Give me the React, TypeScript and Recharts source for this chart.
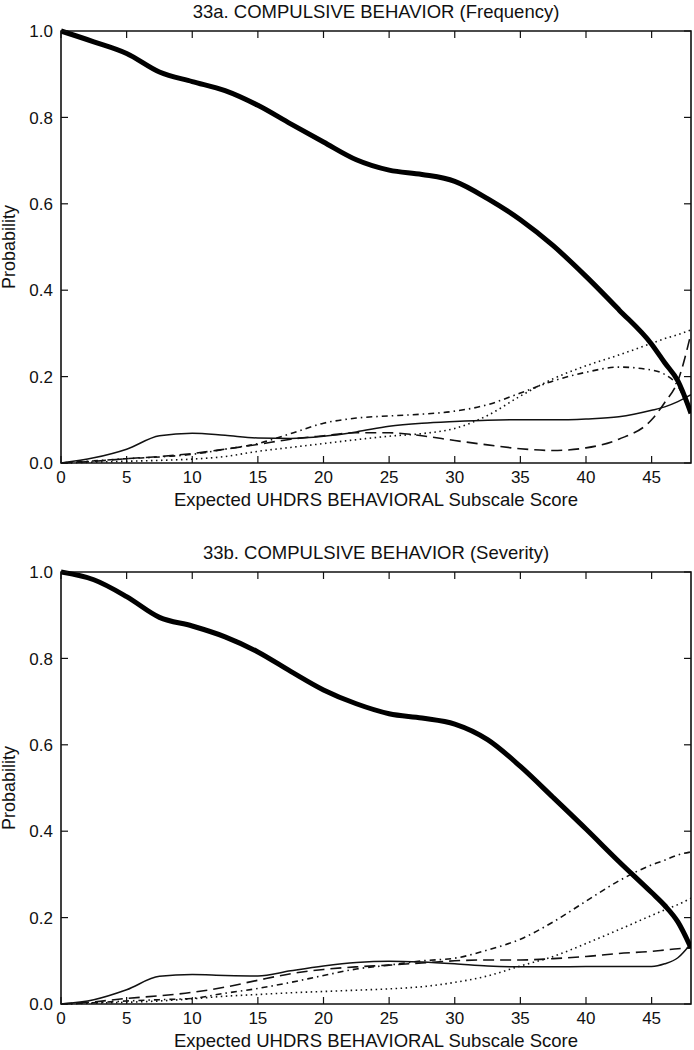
import React from 'react';
import { LineChart, Line, XAxis, YAxis, ReferenceArea, Label } from 'recharts';

// ---------- data ----------
const X_VALUES = [0, 2.5, 5, 7.5, 10, 12.5, 15, 17.5, 20, 22.5, 25, 27.5, 30, 32.5, 35, 37.5, 40, 42.5, 45, 46, 47, 48];
const X_TICKS = [0, 5, 10, 15, 20, 25, 30, 35, 40, 45];
const Y_TICKS = [0, 0.2, 0.4, 0.6, 0.8, 1.0];

const TITLE_A = '33a. COMPULSIVE BEHAVIOR (Frequency)';
const TITLE_B = '33b. COMPULSIVE BEHAVIOR (Severity)';
const X_LABEL = 'Expected UHDRS BEHAVIORAL Subscale Score';
const Y_LABEL = 'Probability';

// 33a Frequency
const FREQ_THICK = [1.0, 0.975, 0.948, 0.905, 0.883, 0.862, 0.828, 0.785, 0.743, 0.702, 0.678, 0.668, 0.652, 0.612, 0.563, 0.503, 0.432, 0.355, 0.275, 0.232, 0.19, 0.115];
const FREQ_SOLID = [0, 0.012, 0.032, 0.063, 0.069, 0.064, 0.058, 0.057, 0.062, 0.072, 0.085, 0.092, 0.096, 0.099, 0.1, 0.1, 0.102, 0.107, 0.122, 0.13, 0.142, 0.158];
const FREQ_DASHED = [0, 0.004, 0.01, 0.015, 0.022, 0.032, 0.043, 0.055, 0.063, 0.07, 0.07, 0.063, 0.052, 0.042, 0.033, 0.029, 0.035, 0.055, 0.1, 0.14, 0.19, 0.3];
const FREQ_DASHDOT = [0, 0.005, 0.01, 0.014, 0.02, 0.032, 0.045, 0.068, 0.092, 0.104, 0.109, 0.113, 0.12, 0.135, 0.162, 0.19, 0.21, 0.222, 0.215, 0.205, 0.178, 0.11];
const FREQ_DOTTED = [0, 0.002, 0.004, 0.006, 0.009, 0.015, 0.027, 0.036, 0.045, 0.054, 0.062, 0.068, 0.08, 0.11, 0.155, 0.195, 0.225, 0.25, 0.277, 0.288, 0.297, 0.308];

// 33b Severity
const SEV_THICK = [1.0, 0.982, 0.943, 0.895, 0.875, 0.85, 0.815, 0.77, 0.727, 0.695, 0.672, 0.662, 0.648, 0.612, 0.55, 0.478, 0.405, 0.33, 0.258, 0.228, 0.19, 0.13];
const SEV_SOLID = [0, 0.01, 0.033, 0.064, 0.068, 0.066, 0.065, 0.077, 0.088, 0.096, 0.099, 0.097, 0.093, 0.088, 0.086, 0.086, 0.087, 0.087, 0.087, 0.093, 0.107, 0.14];
const SEV_DASHED = [0, 0.005, 0.013, 0.019, 0.027, 0.039, 0.055, 0.07, 0.08, 0.086, 0.09, 0.095, 0.1, 0.102, 0.102, 0.105, 0.11, 0.117, 0.122, 0.125, 0.128, 0.13];
const SEV_DASHDOT = [0, 0.003, 0.007, 0.01, 0.013, 0.025, 0.036, 0.05, 0.066, 0.081, 0.09, 0.1, 0.106, 0.125, 0.15, 0.19, 0.238, 0.285, 0.322, 0.333, 0.345, 0.352];
const SEV_DOTTED = [0, 0.002, 0.004, 0.007, 0.012, 0.018, 0.022, 0.026, 0.029, 0.032, 0.035, 0.04, 0.05, 0.065, 0.088, 0.11, 0.14, 0.172, 0.205, 0.218, 0.23, 0.245];

// ---------- layout ----------
const W = 694;
const H = 541;
const PLOT_LEFT = 61;
const PLOT_RIGHT = 691;
const PLOT_TOP = 31;
const PLOT_BOTTOM = 463;
const FONT = '"Liberation Sans", Arial, Helvetica, sans-serif';
const FS = 17;
const LABEL_FS = 18.5;
const INK = '#111';
const TICK_LEN = 7;

function buildRows(thick: number[], solid: number[], dashed: number[], dashdot: number[], dotted: number[]) {
  return X_VALUES.map((x, i) => ({
    x,
    thick: thick[i],
    solid: solid[i],
    dashed: dashed[i],
    dashdot: dashdot[i],
    dotted: dotted[i],
  }));
}

const XTick = (props: any) => {
  const { x, payload } = props;
  return (
    <g>
      <line x1={x} x2={x} y1={PLOT_BOTTOM} y2={PLOT_BOTTOM - TICK_LEN} stroke={INK} strokeWidth={1.2} />
      <line x1={x} x2={x} y1={PLOT_TOP} y2={PLOT_TOP + TICK_LEN} stroke={INK} strokeWidth={1.2} />
      <text x={x} y={PLOT_BOTTOM + 14} dy="0.36em" textAnchor="middle" fontFamily={FONT} fontSize={FS} fill={INK}>
        {String(payload.value)}
      </text>
    </g>
  );
};

const YTick = (props: any) => {
  const { y, payload } = props;
  return (
    <g>
      <line x1={PLOT_LEFT} x2={PLOT_LEFT + TICK_LEN} y1={y} y2={y} stroke={INK} strokeWidth={1.2} />
      <line x1={PLOT_RIGHT - TICK_LEN} x2={PLOT_RIGHT} y1={y} y2={y} stroke={INK} strokeWidth={1.2} />
      <text x={PLOT_LEFT - 8} y={y} dy="0.36em" textAnchor="end" fontFamily={FONT} fontSize={FS} fill={INK}>
        {Number(payload.value).toFixed(1)}
      </text>
    </g>
  );
};

function Panel({ title, rows }: { title: string; rows: any[] }) {
  const midX = (PLOT_LEFT + PLOT_RIGHT) / 2;
  const midY = (PLOT_TOP + PLOT_BOTTOM) / 2;
  return (
    <LineChart
      width={W}
      height={H}
      data={rows}
      margin={{ top: PLOT_TOP, right: W - PLOT_RIGHT, bottom: 0, left: 0 }}
    >
      <XAxis
        type="number"
        dataKey="x"
        domain={[0, 48]}
        ticks={X_TICKS}
        interval={0}
        allowDataOverflow
        height={H - PLOT_BOTTOM}
        tickSize={0}
        tickMargin={0}
        tickLine={false}
        axisLine={false}
        tick={<XTick />}
      >
        <Label
          content={() => (
            <text x={midX} y={499} dy="0.36em" textAnchor="middle" fontFamily={FONT} fontSize={LABEL_FS} fill={INK}>
              {X_LABEL}
            </text>
          )}
        />
        <Label
          content={() => (
            <text x={midX} y={11} dy="0.36em" textAnchor="middle" fontFamily={FONT} fontSize={LABEL_FS} fill={INK}>
              {title}
            </text>
          )}
        />
      </XAxis>
      <YAxis
        type="number"
        domain={[0, 1]}
        ticks={Y_TICKS}
        interval={0}
        width={PLOT_LEFT}
        tickSize={0}
        tickMargin={0}
        tickLine={false}
        axisLine={false}
        tick={<YTick />}
      >
        <Label
          content={() => (
            <text
              transform={`translate(9, ${midY}) rotate(-90)`}
              dy="0.36em"
              textAnchor="middle"
              fontFamily={FONT}
              fontSize={18}
              fill={INK}
            >
              {Y_LABEL}
            </text>
          )}
        />
      </YAxis>
      <ReferenceArea x1={0} x2={48} y1={0} y2={1} fill="none" stroke={INK} strokeWidth={1.6} />
      <Line type="monotone" dataKey="dotted" stroke={INK} strokeWidth={1.6} strokeDasharray="1.5 3.5" dot={false} isAnimationActive={false} />
      <Line type="monotone" dataKey="dashdot" stroke={INK} strokeWidth={1.6} strokeDasharray="6 4 1.5 4" dot={false} isAnimationActive={false} />
      <Line type="monotone" dataKey="dashed" stroke={INK} strokeWidth={1.6} strokeDasharray="11 6" dot={false} isAnimationActive={false} />
      <Line type="monotone" dataKey="solid" stroke={INK} strokeWidth={1.5} dot={false} isAnimationActive={false} />
      <Line type="monotone" dataKey="thick" stroke="#000" strokeWidth={5} dot={false} isAnimationActive={false} />
    </LineChart>
  );
}

export default function App() {
  const rowsA = buildRows(FREQ_THICK, FREQ_SOLID, FREQ_DASHED, FREQ_DASHDOT, FREQ_DOTTED);
  const rowsB = buildRows(SEV_THICK, SEV_SOLID, SEV_DASHED, SEV_DASHDOT, SEV_DOTTED);
  return (
    <div style={{ position: 'absolute', left: 0, top: 0, width: W, height: 1050, background: '#fff' }}>
      <Panel title={TITLE_A} rows={rowsA} />
      <Panel title={TITLE_B} rows={rowsB} />
    </div>
  );
}
